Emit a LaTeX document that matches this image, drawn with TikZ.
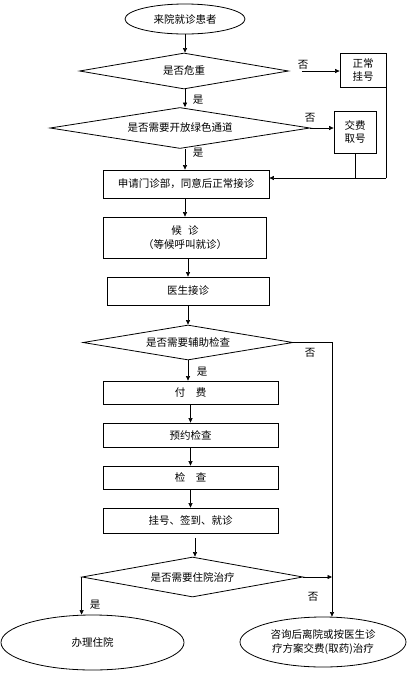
\documentclass[tikz,border=0pt]{standalone}
\usepackage{fontspec}
\newfontfamily\cjk{Noto Sans CJK SC}
\usetikzlibrary{arrows.meta,shapes.geometric}

\begin{document}
\begin{tikzpicture}[
    x=1pt, y=-1pt,
    font=\cjk\fontsize{10.5}{13.5}\selectfont,
    box/.style={
        rectangle, draw, line width=0.8pt,
        align=center, inner sep=1pt
    },
    decision/.style={diamond, draw, line width=0.8pt, inner sep=0pt},
    terminal/.style={ellipse, draw, line width=0.8pt, align=center, inner sep=0pt},
    conn/.style={-{Triangle[length=4.5pt,width=4pt]}, line width=0.6pt},
    plain/.style={line width=0.6pt},
    lbl/.style={inner sep=0pt},
]

    \useasboundingbox (0,0) rectangle (412,678);

    % Column x-coordinates.
    \def\xMain{186}
    \def\xLow{190.5}
    \def\xRight{332}

    % ---------- entry and triage ----------
    \node[terminal, minimum width=120pt, minimum height=30pt] (start) at (185,19) {来院就诊患者};
    \node[decision, aspect=5.8, minimum width=209pt, minimum height=36pt] (critical) at (184,71) {是否危重};
    \node[box, minimum width=46pt, minimum height=34pt] (normalreg) at (363,70) {正常\\挂号};
    \node[decision, aspect=6.34, minimum width=260pt, minimum height=41pt] (green) at (180,128) {是否需要开放绿色通道};
    \node[box, minimum width=42pt, minimum height=42pt] (payreg) at (355,132) {交费\\取号};
    \node[box, minimum width=166pt, minimum height=28pt] (apply) at (\xMain,184) {申请门诊部，同意后正常接诊};

    \draw[conn] (start) -- (start.south |- critical.north);
    \draw[conn] (critical.south -| start.south) -- (start.south |- green.north);
    \draw[conn] (green.south -| start.south) -- (start.south |- apply.north);
    \draw[conn, shorten <=13pt] (critical.east) -- (critical.east -| normalreg.west);
    \draw[conn] (green.east) -- (green.east -| payreg.west);

    \node[lbl] (yes1) at (198,100) {是};
    \node[lbl] (yes2) at (198,153) {是};
    \node[lbl] (no1) at (303,65) {否};
    \node[lbl] (no2) at (310,118) {否};

    % both side boxes come back into the application box
    \coordinate (merge) at (normalreg.east |- 0,178);
    \draw[plain] (normalreg.south east) -- (merge);
    \draw[plain] (payreg.south) -- (payreg.south |- merge);
    \draw[conn] (merge) -- (merge -| apply.east);

    % ---------- consultation ----------
    \node[box, minimum width=163pt, minimum height=41pt] (waiting) at (185,237.5) {候\hspace{0.6em}诊\\（等候呼叫就诊）};
    \node[box, minimum width=162pt, minimum height=28pt] (doctor) at (188,291) {医生接诊};
    \node[decision, aspect=6, minimum width=210pt, minimum height=35pt] (exam) at (188,342.5) {是否需要辅助检查};

    \draw[conn] (apply.south -| waiting.north) -- (waiting.north);
    \draw[conn] (waiting.south -| doctor.north) -- (doctor.north);
    \draw[conn] (doctor) -- (exam);

    % ---------- auxiliary examination ----------
    \node[box, minimum width=175pt, minimum height=23pt] (pay) at (\xLow,392.5) {付\hspace{1em}费};
    \node[box, minimum width=175pt, minimum height=24pt] (book) at (\xLow,435) {预约检查};
    \node[box, minimum width=175pt, minimum height=23pt] (check) at (\xLow,477.5) {检\hspace{1em}查};
    \node[box, minimum width=175pt, minimum height=25pt] (revisit) at (\xLow,520.5) {挂号、签到、就诊};

    \draw[conn] (exam.south) -- (exam.south |- pay.north);
    \draw[conn] (pay) -- (book);
    \draw[conn] (book) -- (check);
    \draw[conn] (check) -- (revisit);

    \node[lbl] (yes3) at (202,372) {是};

    % ---------- hospitalisation ----------
    \node[decision, aspect=5.5, minimum width=221pt, minimum height=40pt] (inpatient) at (192.5,577) {是否需要住院治疗};
    \node[terminal, minimum width=183pt, minimum height=55pt] (admit) at (92.5,642.5) {办理住院};
    \node[terminal, minimum width=166pt, minimum height=50pt] (advice) at (323,642) {咨询后离院或按医生诊\\疗方案交费(取药)治疗};

    \draw[conn, shorten <=5pt] (revisit.south -| 195,0) -- (195,0 |- inpatient.north);
    \draw[conn] (inpatient.west) -- (inpatient.west |- admit.north);

    % the "no" branch of the examination runs down the right side
    \coordinate (rightline) at (\xRight,0);
    \draw[conn] (exam.east) -- (exam.east -| rightline) -- (rightline |- advice.north);
    \draw[conn] (inpatient.east) -- (inpatient.east -| rightline);

    \node[lbl] (no3) at (310,353) {否};
    \node[lbl] (yes4) at (95,605) {是};
    \node[lbl] (no4) at (313,597) {否};

\end{tikzpicture}
\end{document}
